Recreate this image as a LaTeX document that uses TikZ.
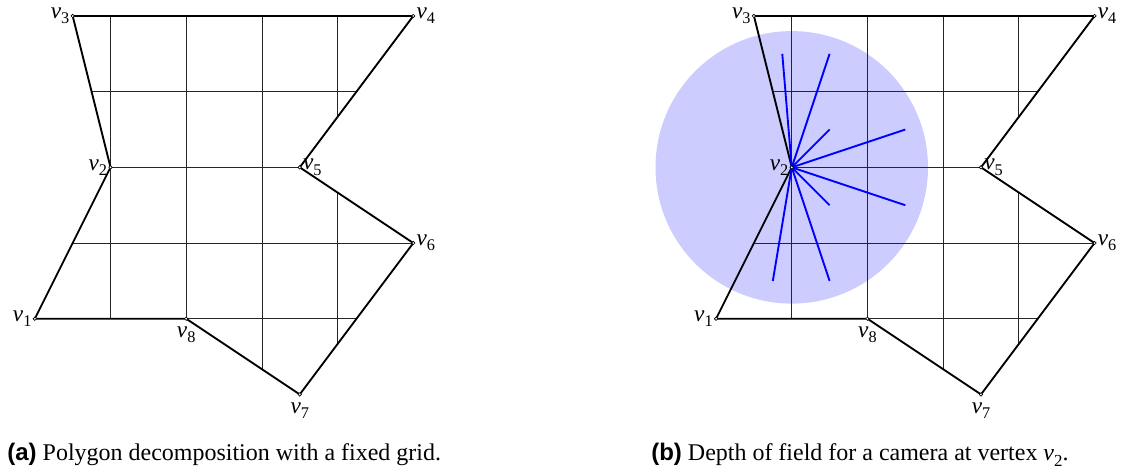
\documentclass[tikz,border=0pt]{standalone}
\usepackage{fontspec}
\setmainfont{Liberation Serif}
\newfontfamily\capfont{Liberation Sans}
\usepackage{tikz}

\newcommand{\vl}[1]{\textit{v}\raisebox{-0.23em}{\fontsize{8.7}{9}\selectfont #1}}
\newcommand{\vcap}[1]{\textit{v}\raisebox{-0.23em}{\fontsize{9}{10}\selectfont #1}}

\begin{document}
\begin{tikzpicture}[
  x=1.42cm, y=1.42cm,
  edge/.style={line width=1pt, line join=miter},
  gridline/.style={line width=0.4pt, black!85},
  vtx/.style={draw, line width=0.35pt, fill=white},
  lab/.style={inner sep=1.6pt, font=\fontsize{12.4}{14}\selectfont},
  dof/.style={fill=blue!20},
  ray/.style={line width=1pt, blue},
  captext/.style={inner sep=0pt, anchor=base west, font=\fontsize{12.8}{15}\selectfont}
]
\useasboundingbox (-1.46,-3.997) rectangle (13.35,2.211);

\foreach \p/\dx in {a/0,b/9} {
  \coordinate (\p1) at (\dx-1,-2);
  \coordinate (\p2) at (\dx,0);
  \coordinate (\p3) at (\dx-0.5,2);
  \coordinate (\p4) at (\dx+4,2);
  \coordinate (\p5) at (\dx+2.5,0);
  \coordinate (\p6) at (\dx+4,-1);
  \coordinate (\p7) at (\dx+2.5,-3);
  \coordinate (\p8) at (\dx+1,-2);
}

\fill[dof] (b2) circle[radius=1.8];

\foreach \p/\dx in {a/0,b/9} {
  \begin{scope}
    \clip (\p1) -- (\p2) -- (\p3) -- (\p4) -- (\p5) -- (\p6) -- (\p7) -- (\p8) -- cycle;
    \foreach \i in {0,...,3} \draw[gridline] (\dx+\i,-3) -- (\dx+\i,2);
    \foreach \j in {-2,...,1} \draw[gridline] (\dx-1,\j) -- (\dx+4,\j);
  \end{scope}
  \draw[edge] (\p1) -- (\p2) -- (\p3) -- (\p4) -- (\p5) -- (\p6) -- (\p7) -- (\p8) -- cycle;
}

\foreach \rx/\ry in {-0.125/1.5, 0.5/1.5, 0.5/0.5, 1.5/0.5, 1.5/-0.5, 0.5/-0.5, 0.5/-1.5, -0.25/-1.5}
  \draw[ray] (b2) -- ++(\rx,\ry);

\foreach \p in {a,b} {
  \foreach \k/\an/\sy in {1/east/0,2/east/0,3/east/0,4/west/0,5/west/0,6/west/0,7/north/-2.5,8/north/-2.5} {
    \draw[vtx] (\p\k) circle[radius=0.9pt];
    \node[lab, anchor=\an, yshift=\sy pt] (\p\k lab) at (\p\k) {\vl{\k}};
  }
}

\node[captext] (capa) at (-1.367,-3.878) {{\capfont\bfseries (a)} Polygon decomposition with a fixed grid.};
\node[captext] (capb) at (7.14,-3.878) {{\capfont\bfseries (b)} Depth of field for a camera at vertex \vcap{2}.};
\end{tikzpicture}
\end{document}
